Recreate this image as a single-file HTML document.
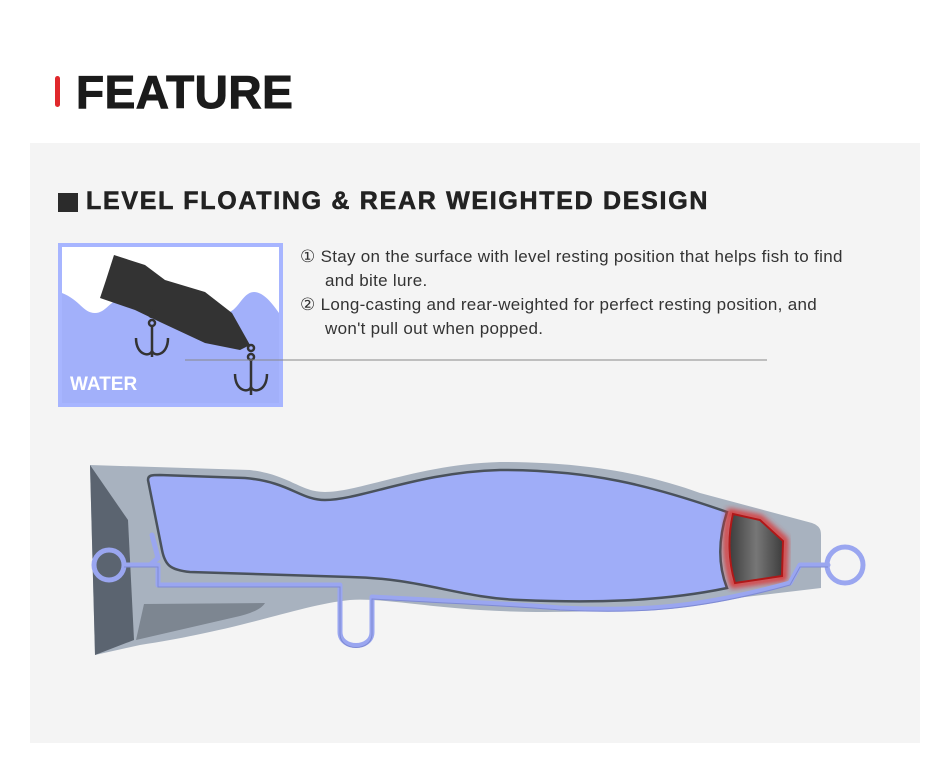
<!DOCTYPE html>
<html><head><meta charset="utf-8"><style>
body{margin:0;width:950px;height:763px;background:#fff;position:relative;overflow:hidden;font-family:"Liberation Sans",sans-serif}
.abs{position:absolute}
</style></head><body>
<div class="abs" style="left:55px;top:76px;width:5px;height:31px;background:#e0282c;border-radius:3px"></div>
<div class="abs" style="left:76px;top:67px;font-size:46px;font-weight:bold;color:#1b1b1b;line-height:50px;letter-spacing:0.5px;-webkit-text-stroke:1px #1b1b1b">FEATURE</div>
<div class="abs" style="left:30px;top:143px;width:890px;height:600px;background:#f4f4f4"></div>
<div class="abs" style="left:58px;top:193px;width:20px;height:19px;background:#2b2b2b"></div>
<div class="abs" style="left:86px;top:185px;font-size:25px;font-weight:bold;color:#222;line-height:32px;white-space:nowrap;letter-spacing:1.7px;-webkit-text-stroke:0.6px #222">LEVEL FLOATING &amp; REAR WEIGHTED DESIGN</div>
<div class="abs" style="left:300px;top:245px;font-size:17px;color:#333;line-height:24px;width:600px;white-space:nowrap;letter-spacing:0.3px">
<div>① Stay on the surface with level resting position that helps fish to find</div>
<div style="padding-left:25px">and bite lure.</div>
<div>② Long-casting and rear-weighted for perfect resting position, and</div>
<div style="padding-left:25px">won't pull out when popped.</div>
</div>
<svg class="abs" style="left:0;top:0" width="950" height="763">
<rect x="60" y="245" width="221" height="160" fill="#a2b0fa" stroke="#a7b5ff" stroke-width="4"/>
<path d="M62 247 H279 V313 C270 300 262 292 254 292 C242 292 238 313 225 313 C213 313 208 300 200 300 L120 300 C110 300 106 313 95 313 C83 313 80 300 62 293 Z" fill="#fff"/>
<path d="M114 255 L145 265 L165 280 L205 292 L232 313 L250 345 L240 350 L205 343 L160 322 L135 310 L100 298 L106 280 Z" fill="#333"/>
<g stroke="#333" stroke-width="2.5" fill="none">
<circle cx="152" cy="314" r="3"/><circle cx="152" cy="323" r="3"/>
<path d="M152 326 V357 M136 338 C136 357 152 357 152 350 C152 357 168 357 168 338"/>
<circle cx="251" cy="348" r="3"/><circle cx="251" cy="357" r="3"/>
<path d="M251 360 V395 M235 374 C235 393 251 393 251 386 C251 393 267 393 267 374"/>
</g>
<line x1="185" y1="360" x2="767" y2="360" stroke="#888" stroke-width="1"/>
<text x="70" y="390" fill="#fff" font-size="19" font-weight="bold" font-family="Liberation Sans, sans-serif">WATER</text>
<path d="M90 465 L250 470 C290 475 300 492 325 492 C360 492 420 464 500 462 C590 462 650 475 700 493 L812 523 C820 526 821 530 821 535 V588 L720 600 C650 610 560 615 480 610 C420 606 380 598 350 600 C300 605 250 628 140 645 L95 655 Z" fill="#a8b2bf"/>
<path d="M90 465 L128 520 L134 640 L95 655 Z" fill="#5b6470"/>
<path d="M148 480 C148 475 152 475 160 475 L245 478 C290 482 300 500 325 500 C360 500 420 472 500 470 C590 470 650 485 727 512 C718 540 718 565 727 588 C660 602 590 603 520 600 C460 598 420 578 350 577 L190 572 C170 570 165 565 162 550 Z" fill="#9fadf8" stroke="#4a525c" stroke-width="2.5"/>
<path d="M144 604 L265 603 C262 608 255 612 240 616 L136 640 Z" fill="#7d8691"/>
<defs><filter id="g"><feGaussianBlur stdDeviation="3"/></filter>
<linearGradient id="w" x1="0" x2="1"><stop offset="0" stop-color="#3d3d3d"/><stop offset="0.5" stop-color="#777"/><stop offset="1" stop-color="#3d3d3d"/></linearGradient></defs>
<path d="M730 512 L760 518 L785 540 L784 578 L733 585 C725 560 725 535 730 512 Z" fill="none" stroke="#d33" stroke-width="6" filter="url(#g)"/>
<path d="M733 514 L760 520 L783 541 L782 576 L735 583 C728 560 728 535 733 514 Z" fill="url(#w)" stroke="#b01818" stroke-width="2"/>
<g fill="none" stroke="#9aa6f0" stroke-width="5" stroke-linecap="round" stroke-linejoin="round">
<circle cx="109" cy="565" r="15"/>
<circle cx="845" cy="565" r="18"/>
<path d="M124 565 H158 V585 H340 V632 C340 650 372 650 372 632 V597 C420 600 500 603 560 608 C640 612 700 608 790 583 L800 565 H828"/>
<path d="M152 535 L158 558 L150 565"/>
</g>
<path d="M124 565 H158 V585 H340 V632 C340 650 372 650 372 632 V597 C420 600 500 603 560 608 C640 612 700 608 790 583 L800 565 H828" transform="translate(0,2)" fill="none" stroke="#6d78c0" stroke-width="1" opacity="0.6"/>
</svg>
</body></html>
